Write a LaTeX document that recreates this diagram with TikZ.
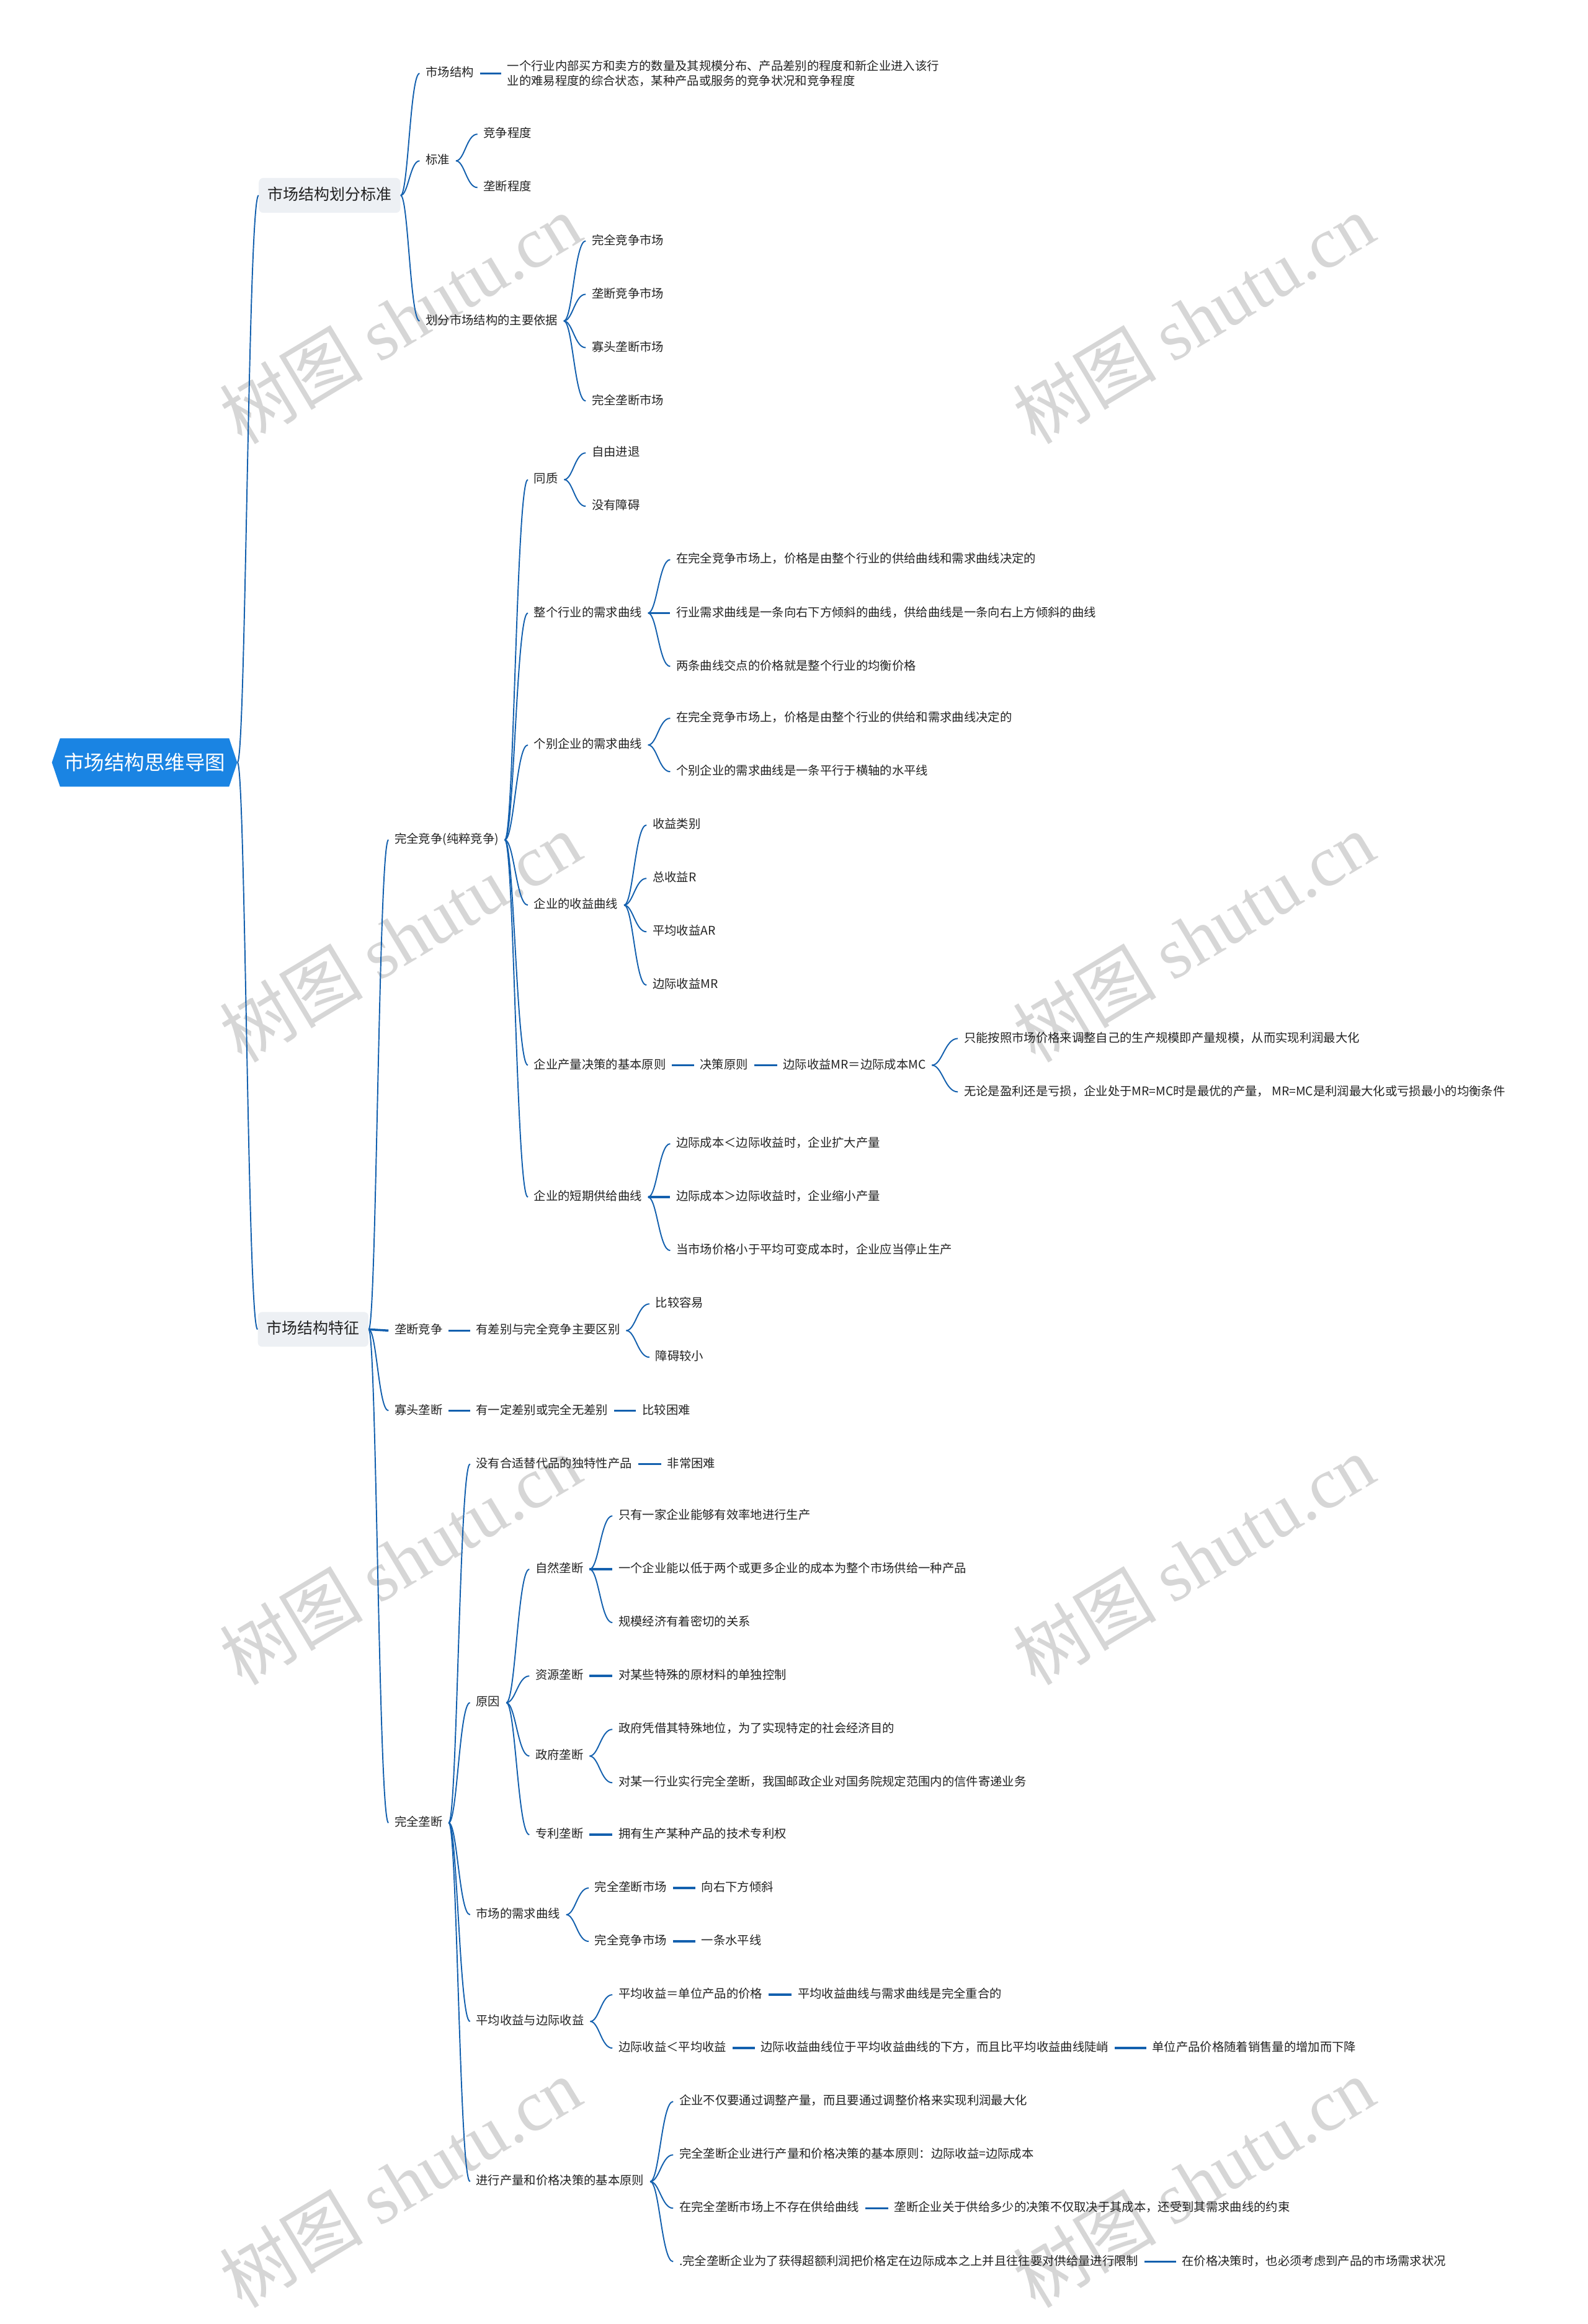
\documentclass[tikz,border=0pt]{standalone}
\usepackage{fontspec}
\setmainfont{Noto Sans CJK SC}
\newfontfamily\wmlat{Liberation Serif}
\usetikzlibrary{calc}
\definecolor{lineblue}{HTML}{1360AE}
\definecolor{rootblue}{HTML}{1A84E3}
\definecolor{lvbox}{HTML}{EDF0F4}
\definecolor{txtc}{HTML}{222222}
\definecolor{wmc}{HTML}{D6D6D6}
\newlength\ux \setlength\ux{0.047806cm}
\newcommand\mmcurve[2]{\draw[conn] let \p1=(#1.east), \p2=(#2.west), \p3=($(\p1)!0.4!(\p2)$), \p4=($(\p1)!0.5!(\p2)$) in (\p1) .. controls (\x3,\y1) and (\x4,\y2) .. (\p2);}
\newcommand\mmline[2]{\draw[sconn] (#1.east) -- (#2.west);}
\begin{document}
\begin{tikzpicture}[x=0.047806cm,y=-0.047806cm,
  txt/.style={anchor=west, xshift=-4\ux, yshift=-0.5\ux, inner xsep=4\ux, inner ysep=0pt, text height=8.6pt, text depth=2.2pt, font=\fontsize{11pt}{13.6pt}\selectfont, text=txtc},
  desc/.style={anchor=west, xshift=-4\ux, yshift=-0.5\ux, inner xsep=4\ux, inner ysep=0pt, align=left, font=\fontsize{11pt}{13.6pt}\selectfont, text=txtc},
  conn/.style={draw=lineblue, line width=1.1pt},
  sconn/.style={draw=lineblue, line width=2pt},
  lvone/.style={fill=lvbox, rounded corners=3\ux, inner xsep=6\ux, inner ysep=0pt, minimum height=23.5\ux, text height=10.8pt, text depth=2.6pt, font=\fontsize{14.2pt}{16pt}\selectfont, text=txtc},
  roottxt/.style={minimum width=125\ux, minimum height=32.5\ux, inner sep=0pt, text=white, font=\fontsize{18.5pt}{20pt}\selectfont},
  wm/.style={text=wmc, rotate=31, inner sep=0pt, font=\fontsize{66pt}{70pt}\selectfont}]
\useasboundingbox (0,0) rectangle (1071,1567.6);
% watermarks
\foreach \wx/\wy in {270/215,805/215,270/632,805/632,270/1052,805/1052,270/1472,805/1472}{
  \node[wm] at (\wx,\wy) {树图 {\wmlat shutu.cn}};
}
% root
\fill[rootblue] (35,514.3) -- (40.5,498) -- (154.5,498) -- (160,514.3) -- (154.5,530.6) -- (40.5,530.6) -- cycle;
\node[roottxt] (root) at (97.5,514.3) {市场结构思维导图};
% level 1
\node[lvone] (L1a) at (222.3,131.8) {市场结构划分标准};
\node[lvone] (L1b) at (211.2,896.7) {市场结构特征};
% branch A
\node[txt] (a1) at (287,49) {市场结构};
\node[desc] (a1d) at (342,49) {一个行业内部买方和卖方的数量及其规模分布、产品差别的程度和新企业进入该行\\业的难易程度的综合状态，某种产品或服务的竞争状况和竞争程度};
\node[txt] (a2) at (287,108) {标准};
\node[txt] (a21) at (326,90) {竞争程度};
\node[txt] (a22) at (326,126) {垄断程度};
\node[txt] (a3) at (287,216) {划分市场结构的主要依据};
\node[txt] (a31) at (399,162) {完全竞争市场};
\node[txt] (a32) at (399,198) {垄断竞争市场};
\node[txt] (a33) at (399,234) {寡头垄断市场};
\node[txt] (a34) at (399,270) {完全垄断市场};
% branch B1
\node[txt] (b1) at (266,566) {完全竞争(纯粹竞争)};
\node[txt] (c1) at (360,323) {同质};
\node[txt] (c11) at (399,305) {自由进退};
\node[txt] (c12) at (399,341) {没有障碍};
\node[txt] (c2) at (360,413) {整个行业的需求曲线};
\node[txt] (c21) at (456,377) {在完全竞争市场上，价格是由整个行业的供给曲线和需求曲线决定的};
\node[txt] (c22) at (456,413) {行业需求曲线是一条向右下方倾斜的曲线，供给曲线是一条向右上方倾斜的曲线};
\node[txt] (c23) at (456,449) {两条曲线交点的价格就是整个行业的均衡价格};
\node[txt] (c3) at (360,502) {个别企业的需求曲线};
\node[txt] (c31) at (456,484) {在完全竞争市场上，价格是由整个行业的供给和需求曲线决定的};
\node[txt] (c32) at (456,520) {个别企业的需求曲线是一条平行于横轴的水平线};
\node[txt] (c4) at (360,610) {企业的收益曲线};
\node[txt] (c41) at (440,556) {收益类别};
\node[txt] (c42) at (440,592) {总收益R};
\node[txt] (c43) at (440,628) {平均收益AR};
\node[txt] (c44) at (440,664) {边际收益MR};
\node[txt] (c5) at (360,718) {企业产量决策的基本原则};
\node[txt] (c5a) at (472,718) {决策原则};
\node[txt] (c5b) at (528,718) {边际收益MR＝边际成本MC};
\node[txt] (c51) at (650,700) {只能按照市场价格来调整自己的生产规模即产量规模，从而实现利润最大化};
\node[txt] (c52) at (650,736) {无论是盈利还是亏损，企业处于MR=MC时是最优的产量， MR=MC是利润最大化或亏损最小的均衡条件};
\node[txt] (c6) at (360,807) {企业的短期供给曲线};
\node[txt] (c61) at (456,771) {边际成本＜边际收益时，企业扩大产量};
\node[txt] (c62) at (456,807) {边际成本＞边际收益时，企业缩小产量};
\node[txt] (c63) at (456,843) {当市场价格小于平均可变成本时，企业应当停止生产};
% branch B2, B3
\node[txt] (b2) at (266,897) {垄断竞争};
\node[txt] (b2a) at (321,897) {有差别与完全竞争主要区别};
\node[txt] (b21) at (442,879) {比较容易};
\node[txt] (b22) at (442,915) {障碍较小};
\node[txt] (b3) at (266,951) {寡头垄断};
\node[txt] (b3a) at (321,951) {有一定差别或完全无差别};
\node[txt] (b3b) at (433,951) {比较困难};
% branch B4
\node[txt] (b4) at (266,1229) {完全垄断};
\node[txt] (d1) at (321,987) {没有合适替代品的独特性产品};
\node[txt] (d1a) at (450,987) {非常困难};
\node[txt] (d2) at (321,1148) {原因};
\node[txt] (e1) at (361,1058) {自然垄断};
\node[txt] (e11) at (417,1022) {只有一家企业能够有效率地进行生产};
\node[txt] (e12) at (417,1058) {一个企业能以低于两个或更多企业的成本为整个市场供给一种产品};
\node[txt] (e13) at (417,1094) {规模经济有着密切的关系};
\node[txt] (e2) at (361,1130) {资源垄断};
\node[txt] (e2a) at (417,1130) {对某些特殊的原材料的单独控制};
\node[txt] (e3) at (361,1184) {政府垄断};
\node[txt] (e31) at (417,1166) {政府凭借其特殊地位，为了实现特定的社会经济目的};
\node[txt] (e32) at (417,1202) {对某一行业实行完全垄断，我国邮政企业对国务院规定范围内的信件寄递业务};
\node[txt] (e4) at (361,1237) {专利垄断};
\node[txt] (e4a) at (417,1237) {拥有生产某种产品的技术专利权};
\node[txt] (d3) at (321,1291) {市场的需求曲线};
\node[txt] (f1) at (401,1273) {完全垄断市场};
\node[txt] (f1a) at (473,1273) {向右下方倾斜};
\node[txt] (f2) at (401,1309) {完全竞争市场};
\node[txt] (f2a) at (473,1309) {一条水平线};
\node[txt] (d4) at (321,1363) {平均收益与边际收益};
\node[txt] (g1) at (417,1345) {平均收益＝单位产品的价格};
\node[txt] (g1a) at (538,1345) {平均收益曲线与需求曲线是完全重合的};
\node[txt] (g2) at (417,1381) {边际收益＜平均收益};
\node[txt] (g2a) at (513,1381) {边际收益曲线位于平均收益曲线的下方，而且比平均收益曲线陡峭};
\node[txt] (g2b) at (777,1381) {单位产品价格随着销售量的增加而下降};
\node[txt] (d5) at (321,1471) {进行产量和价格决策的基本原则};
\node[txt] (h1) at (458,1417) {企业不仅要通过调整产量，而且要通过调整价格来实现利润最大化};
\node[txt] (h2) at (458,1453) {完全垄断企业进行产量和价格决策的基本原则：边际收益=边际成本};
\node[txt] (h3) at (458,1489) {在完全垄断市场上不存在供给曲线};
\node[txt] (h3a) at (603,1489) {垄断企业关于供给多少的决策不仅取决于其成本，还受到其需求曲线的约束};
\node[txt] (h4) at (458,1525) {.完全垄断企业为了获得超额利润把价格定在边际成本之上并且往往要对供给量进行限制};
\node[txt] (h4a) at (797,1525) {在价格决策时，也必须考虑到产品的市场需求状况};
% connectors
\mmcurve{root}{L1a} \mmcurve{root}{L1b}
\mmcurve{L1a}{a1} \mmcurve{L1a}{a2} \mmcurve{L1a}{a3}
\mmline{a1}{a1d}
\mmcurve{a2}{a21} \mmcurve{a2}{a22}
\mmcurve{a3}{a31} \mmcurve{a3}{a32} \mmcurve{a3}{a33} \mmcurve{a3}{a34}
\mmcurve{L1b}{b1} \mmline{L1b}{b2} \mmcurve{L1b}{b3} \mmcurve{L1b}{b4}
\mmcurve{b1}{c1} \mmcurve{b1}{c2} \mmcurve{b1}{c3} \mmcurve{b1}{c4} \mmcurve{b1}{c5} \mmcurve{b1}{c6}
\mmcurve{c1}{c11} \mmcurve{c1}{c12}
\mmcurve{c2}{c21} \mmline{c2}{c22} \mmcurve{c2}{c23}
\mmcurve{c3}{c31} \mmcurve{c3}{c32}
\mmcurve{c4}{c41} \mmcurve{c4}{c42} \mmcurve{c4}{c43} \mmcurve{c4}{c44}
\mmline{c5}{c5a} \mmline{c5a}{c5b}
\mmcurve{c5b}{c51} \mmcurve{c5b}{c52}
\mmcurve{c6}{c61} \mmline{c6}{c62} \mmcurve{c6}{c63}
\mmline{b2}{b2a} \mmcurve{b2a}{b21} \mmcurve{b2a}{b22}
\mmline{b3}{b3a} \mmline{b3a}{b3b}
\mmcurve{b4}{d1} \mmcurve{b4}{d2} \mmcurve{b4}{d3} \mmcurve{b4}{d4} \mmcurve{b4}{d5}
\mmline{d1}{d1a}
\mmcurve{d2}{e1} \mmcurve{d2}{e2} \mmcurve{d2}{e3} \mmcurve{d2}{e4}
\mmcurve{e1}{e11} \mmline{e1}{e12} \mmcurve{e1}{e13}
\mmline{e2}{e2a}
\mmcurve{e3}{e31} \mmcurve{e3}{e32}
\mmline{e4}{e4a}
\mmcurve{d3}{f1} \mmcurve{d3}{f2} \mmline{f1}{f1a} \mmline{f2}{f2a}
\mmcurve{d4}{g1} \mmcurve{d4}{g2} \mmline{g1}{g1a} \mmline{g2}{g2a} \mmline{g2a}{g2b}
\mmcurve{d5}{h1} \mmcurve{d5}{h2} \mmcurve{d5}{h3} \mmcurve{d5}{h4}
\mmline{h3}{h3a} \mmline{h4}{h4a}
\end{tikzpicture}
\end{document}
